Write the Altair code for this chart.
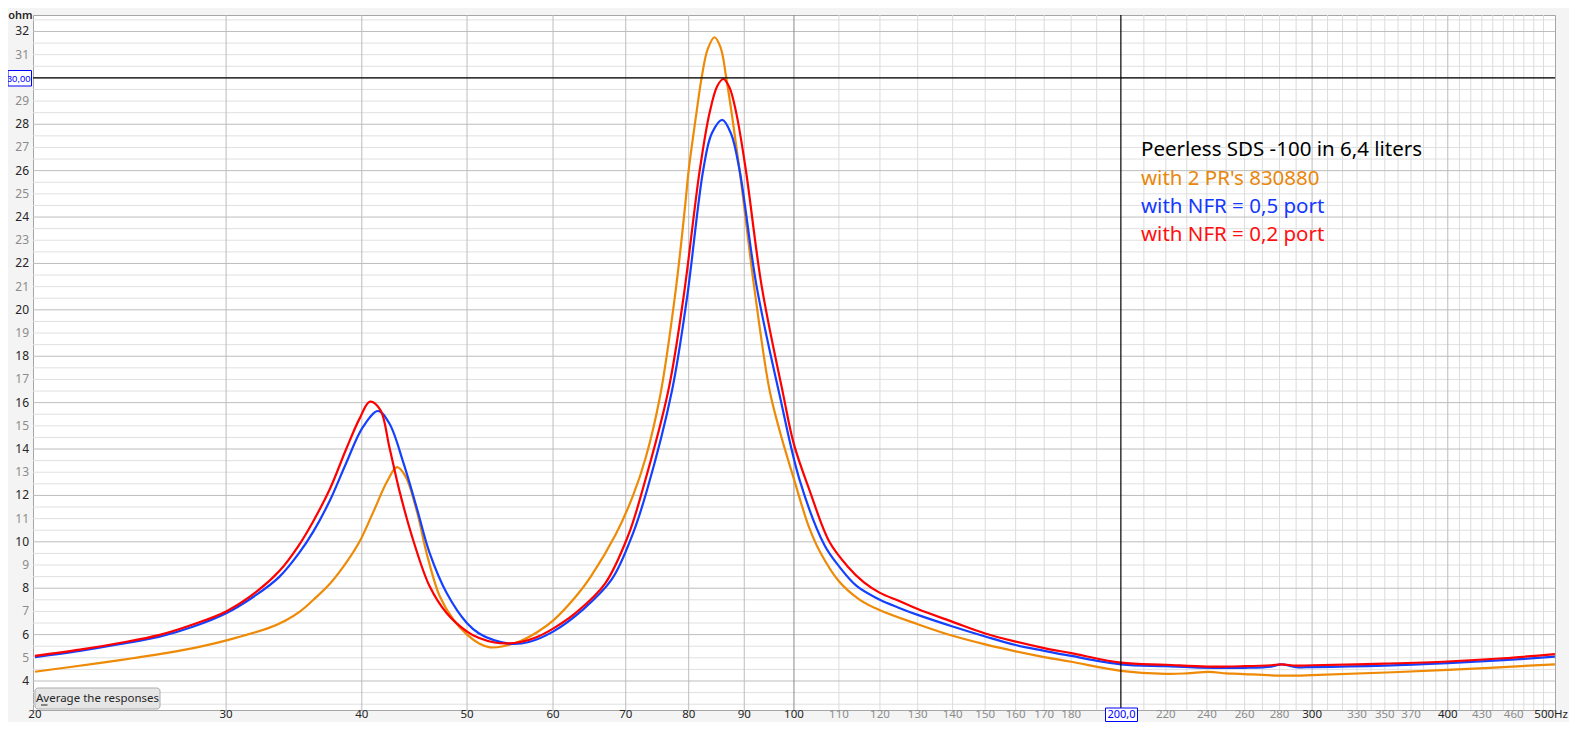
import altair as alt
import pandas as pd

# ---------------- data ----------------
RED_F = [20, 22, 24, 26, 28, 30, 32, 33.6, 35, 36.1, 37.4, 38.7, 39.8, 40.7, 41.6, 42.4, 43.3, 44.6,
         46.2, 47.9, 50, 51.3, 53, 54.5, 56, 58, 60, 63, 67, 70.4, 72.6, 76.6, 79.1, 81.9, 83.6, 85,
         86.1, 87.2, 88.5, 90.3, 93.4, 97.7, 100, 103.4, 107.8, 112, 116, 120, 125, 130, 140, 150, 160,
         170, 180, 200, 220, 240, 260, 275, 281, 290, 300, 350, 400, 450, 502]
RED_V = [5.08, 5.35, 5.65, 5.98, 6.45, 7.0, 7.85, 8.75, 9.85, 10.9, 12.3, 14.0, 15.3, 16.04, 15.69, 14.1,
         12.24, 10.08, 8.07, 6.92, 6.13, 5.85, 5.66, 5.62, 5.68, 5.9, 6.26, 6.95, 8.2, 10.3, 12.3, 16.5,
         20.5, 26.03, 28.47, 29.65, 29.95, 29.6, 28.47, 26.03, 21.0, 16.4, 14.2, 12.2, 10.0, 8.95, 8.25,
         7.8, 7.45, 7.1, 6.55, 6.05, 5.7, 5.42, 5.2, 4.79, 4.7, 4.62, 4.64, 4.68, 4.72, 4.66, 4.68, 4.75,
         4.84, 4.98, 5.16]

BLUE_F = [20, 22, 24, 26, 28, 30, 32, 33.6, 35, 36.1, 37.4, 38.7, 40.1, 41.4, 42.4, 43.7, 45, 46.2, 47.9,
          50, 51.3, 53, 55, 57, 60, 64, 68, 71, 73.2, 77.2, 79.7, 82.5, 84, 85.9, 87.5, 89.1, 92.4,
          97.0, 101.2, 106.7, 110, 114.2, 120, 125, 130, 140, 150, 160, 170, 180, 200, 220, 236, 260, 275,
          281, 290, 300, 350, 400, 450, 502]
BLUE_V = [5.03, 5.3, 5.6, 5.9, 6.35, 6.92, 7.72, 8.5, 9.5, 10.45, 11.8, 13.4, 14.95, 15.64, 15.11,
          13.39, 11.37, 9.5, 7.78, 6.49, 6.05, 5.75, 5.6, 5.68, 6.13, 7.1, 8.4, 10.3, 12.2, 16.5, 20.5,
          26.03, 27.6, 28.19, 27.6, 26.03, 21.0, 16.33, 12.67, 9.85, 8.95, 8.1, 7.5, 7.15, 6.85, 6.35,
          5.92, 5.55, 5.3, 5.08, 4.72, 4.64, 4.58, 4.57, 4.62, 4.72, 4.6, 4.6, 4.66, 4.77, 4.9, 5.05]

ORANGE_F = [20, 22.9, 24.6, 26.4, 28.4, 30.5, 32.8, 34, 35.1, 36.1, 37.4, 38.7, 39.8, 41, 42.2, 43.1,
            43.9, 45, 45.9, 47.2, 48.6, 50, 51.3, 52.5, 54, 56, 58, 60, 63, 65, 68.5, 71.1, 73, 75.3, 77.8,
            79.4, 80, 81.5, 82.2, 83.3, 84.5, 85.6, 86.6, 89.1, 91.9, 94.9, 97, 100, 103.3, 106, 110, 115,
            120, 130, 140, 150, 160, 170, 180, 200, 220, 230, 241, 250, 257, 281, 300, 400, 502]
ORANGE_V = [4.4, 4.77, 4.98, 5.2, 5.48, 5.84, 6.28, 6.6, 7.0, 7.5, 8.2, 9.1, 10.0, 11.3, 12.6, 13.22,
            12.81, 11.23, 9.5, 7.64, 6.63, 6.0, 5.62, 5.45, 5.5, 5.72, 6.1, 6.6, 7.65, 8.5, 10.3, 12.0,
            13.6, 16.3, 20.8, 24.5, 26.03, 28.8, 29.98, 31.25, 31.75, 31.3, 30.05, 26.03, 21.0, 16.6,
            14.8, 12.7, 10.6, 9.45, 8.3, 7.5, 7.05, 6.45, 5.95, 5.58, 5.28, 5.03, 4.83, 4.44, 4.31, 4.33,
            4.39, 4.33, 4.31, 4.23, 4.25, 4.48, 4.72]

X_LABELS = [20, 30, 40, 50, 60, 70, 80, 90, 100, 110, 120, 130, 140, 150, 160, 170, 180,
            220, 240, 260, 280, 300, 330, 350, 370, 400, 430, 460]
X_LABELS_GRAY = [110, 120, 130, 140, 150, 160, 170, 180, 220, 240, 260, 280, 330, 350, 370, 430, 460]
Y_LABELS = [4, 5, 6, 7, 8, 9, 10, 11, 12, 13, 14, 15, 16, 17, 18, 19, 20, 21, 22, 23, 24, 25, 26, 27,
            28, 29, 31, 32]

X_GRID_LIGHT = [110, 120, 130, 140, 150, 160, 170, 180, 190, 210, 220, 230, 240, 250, 260, 270, 280, 290,
                310, 320, 330, 340, 350, 360, 370, 380, 390, 410, 420, 430, 440, 450, 460, 470, 480, 490]
X_GRID_MID = [30, 40, 50, 60, 70, 80, 90, 300, 400]
X_GRID_DARK = [100]
Y_GRID_MID = [4, 6, 8, 10, 12, 14, 16, 18, 20, 22, 24, 26, 28, 30, 32]
Y_GRID_LIGHT = [3.0, 3.5, 4.5, 5, 5.5, 6.5, 7, 7.5, 8.5, 9, 9.5, 10.5, 11, 11.5, 12.5, 13, 13.5, 14.5, 15,
                15.5, 16.5, 17, 17.5, 18.5, 19, 19.5, 20.5, 21, 21.5, 22.5, 23, 23.5, 24.5, 25, 25.5, 26.5,
                27, 27.5, 28.5, 29, 29.5, 30.5, 31, 31.5, 32.5]

CURSOR_HZ = [200]
CURSOR_OHM = [30.0]

LEGEND_LINES = ["Peerless SDS -100 in 6,4 liters", "with 2 PR's 830880",
                "with NFR = 0,5 port", "with NFR = 0,2 port"]
LEGEND_COLORS = ["#000000", "#e8870c", "#1438ff", "#ff1010"]

FONT = "Noto Sans"
DARK = "#262626"
GRAY = "#8c8c8c"

# ---------------- scales ----------------
xs = alt.Scale(type="log", domain=[19.92, 502.1], nice=False)
ys = alt.Scale(type="linear", domain=[2.75, 32.71], nice=False, zero=False)

W, H = 1522, 695


def xrule(vals, color, width=1.0):
    return alt.Chart(pd.DataFrame({"f": vals})).mark_rule(color=color, strokeWidth=width).encode(
        x=alt.X("f:Q", scale=xs, axis=None))


def yrule(vals, color, width=1.0):
    return alt.Chart(pd.DataFrame({"v": vals})).mark_rule(color=color, strokeWidth=width).encode(
        y=alt.Y("v:Q", scale=ys, axis=None))


grid = [
    yrule(Y_GRID_LIGHT, "#e0e0e0"),
    xrule(X_GRID_LIGHT, "#dcdcdc"),
    yrule(Y_GRID_MID, "#bdbdbd"),
    xrule(X_GRID_MID, "#bdbdbd"),
    xrule(X_GRID_DARK, "#8a8a8a"),
]


def curve(f, v, color):
    return alt.Chart(pd.DataFrame({"f": f, "v": v})).mark_line(
        color=color, strokeWidth=2.2, interpolate="catmull-rom", clip=True).encode(
        x=alt.X("f:Q", scale=xs, axis=None), y=alt.Y("v:Q", scale=ys, axis=None))


curves = [
    curve(ORANGE_F, ORANGE_V, "#ee8a05"),
    curve(BLUE_F, BLUE_V, "#1440ff"),
    curve(RED_F, RED_V, "#ff0000"),
]

cursors = [
    xrule(CURSOR_HZ, "#000000", 1.2),
    yrule(CURSOR_OHM, "#000000", 1.2),
]

# tick labels drawn as text through the chart's scales
xlab_df = pd.DataFrame({"f": X_LABELS, "t": [str(v) for v in X_LABELS],
                        "c": [GRAY if v in X_LABELS_GRAY else DARK for v in X_LABELS]})
xlabels = alt.Chart(xlab_df).mark_text(baseline="middle", fontSize=11.5, font=FONT).encode(
    x=alt.X("f:Q", scale=xs, axis=None), y=alt.value(700), text="t:N",
    color=alt.Color("c:N", scale=None))

ylab_df = pd.DataFrame({"v": Y_LABELS, "t": [str(v) for v in Y_LABELS],
                        "c": [DARK if v % 2 == 0 else GRAY for v in Y_LABELS]})
ylabels = alt.Chart(ylab_df).mark_text(baseline="middle", align="right", fontSize=12, font=FONT).encode(
    y=alt.Y("v:Q", scale=ys, axis=None), x=alt.value(-4), text="t:N",
    color=alt.Color("c:N", scale=None))


def txt(s, x, y, size=12, color=DARK, align="center", weight="normal", baseline="middle", font=FONT):
    return alt.Chart(pd.DataFrame({"t": [s]})).mark_text(
        align=align, baseline=baseline, fontSize=size, color=color, font=font, fontWeight=weight).encode(
        text="t:N", x=alt.value(x), y=alt.value(y))


def box(x, x2, y, y2, fill, stroke, radius=0):
    return alt.Chart(pd.DataFrame({"a": [0]})).mark_rect(
        fill=fill, stroke=stroke, strokeWidth=1, cornerRadius=radius).encode(
        x=alt.value(x), x2=alt.value(x2), y=alt.value(y), y2=alt.value(y2))


legend = [txt(s, 1108, b, size=20.5, color=c, align="left", baseline="alphabetic")
          for s, c, b in zip(LEGEND_LINES, LEGEND_COLORS, [141, 169.5, 198, 226])]

extras = [
    txt("ohm", -12.5, 0.5, size=11, weight=600),
    box(-25, -1.5, 55.5, 71, "white", "#0000ff"),
    txt("30,00", -2.5, 63.5, size=9.5, color="#0000ff", align="right", font="Liberation Sans"),
    box(1072.5, 1104.5, 693, 706.5, "white", "#0000ff"),
    txt("200,0", 1088.5, 700, size=11, color="#0000ff"),
    txt("500Hz", 1535, 700, size=11.5, align="right"),
    box(2, 127, 673, 694, "#e6e6e6", "#adadad", radius=3),
    txt("Average the responses", 64.5, 683.5, size=11.5),
    alt.Chart(pd.DataFrame({"a": [0]})).mark_rule(color=DARK, strokeWidth=1).encode(
        x=alt.value(8), x2=alt.value(14.5), y=alt.value(690)),
]

chart = alt.layer(*grid, *curves, *cursors, xlabels, ylabels, *legend, *extras).properties(
    width=W, height=H,
    background="#f4f4f4",
    padding={"left": 25, "top": 7, "right": 14, "bottom": 12},
    autosize=alt.AutoSizeParams(type="none"),
).configure_view(fill="white", stroke="#a6a6a6", strokeWidth=1)

chart.save("out.html", embed_options={"renderer": "svg", "actions": False})
